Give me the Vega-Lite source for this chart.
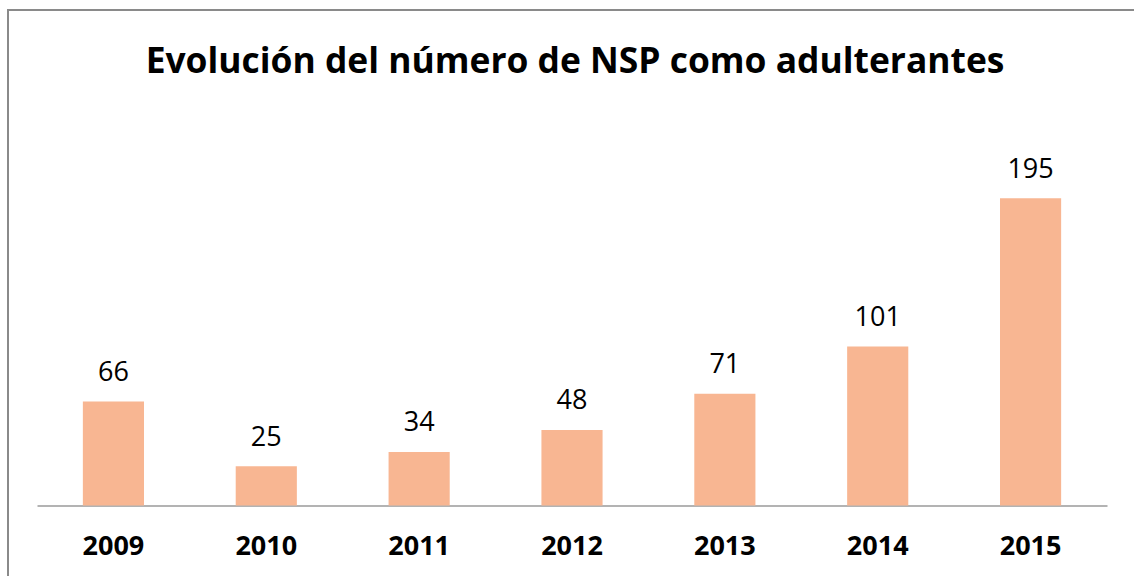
{
  "$schema": "https://vega.github.io/schema/vega-lite/v6.json",
  "autosize": "none",
  "width": 1140,
  "height": 570,
  "padding": {"left": 8, "top": 10, "right": -14, "bottom": -4},
  "background": "white",
  "config": {
    "view": {"stroke": "#8a8a8a", "strokeWidth": 2},
    "font": "Open Sans"
  },
  "title": {
    "text": "Evolución del número de NSP como adulterantes",
    "font": "Open Sans",
    "fontSize": 35.4,
    "fontWeight": "bold",
    "color": "#000000",
    "anchor": "middle",
    "frame": "group",
    "baseline": "alphabetic",
    "offset": -98,
    "dx": -3
  },
  "data": {
    "values": [
      {"year": "2009", "value": 66},
      {"year": "2010", "value": 25},
      {"year": "2011", "value": 34},
      {"year": "2012", "value": 48},
      {"year": "2013", "value": 71},
      {"year": "2014", "value": 101},
      {"year": "2015", "value": 195}
    ]
  },
  "encoding": {
    "x": {
      "field": "year",
      "type": "nominal",
      "sort": null,
      "scale": {"range": [29, 1099], "paddingInner": 0.6, "paddingOuter": 0.3},
      "axis": {
        "title": null,
        "orient": "bottom",
        "offset": -74.5,
        "ticks": false,
        "grid": false,
        "domainColor": "#9a9a9a",
        "domainWidth": 1.5,
        "labelAngle": 0,
        "labelFont": "Open Sans",
        "labelFontSize": 27,
        "labelFontWeight": "bold",
        "labelColor": "#000000",
        "labelBaseline": "alphabetic",
        "labelPadding": 49
      }
    },
    "y": {
      "field": "value",
      "type": "quantitative",
      "scale": {"domain": [-47.3, 314.6], "nice": false, "zero": false},
      "axis": null
    }
  },
  "layer": [
    {
      "mark": {"type": "bar", "color": "#F8B692"},
      "encoding": {"y2": {"datum": 0}}
    },
    {
      "mark": {
        "type": "text",
        "font": "Open Sans",
        "fontSize": 27,
        "color": "#000000",
        "baseline": "alphabetic",
        "align": "center",
        "dy": -20.6
      },
      "encoding": {"text": {"field": "value", "type": "quantitative"}}
    }
  ]
}
